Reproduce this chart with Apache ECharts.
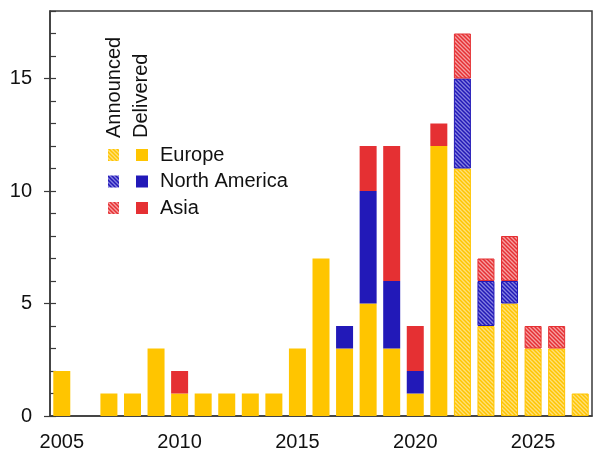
<!DOCTYPE html>
<html>
<head>
<meta charset="utf-8">
<script src="https://cdn.jsdelivr.net/npm/echarts@6/dist/echarts.min.js"></script>
<style>
  html, body { margin: 0; padding: 0; background: #fff; }
  #chart { width: 593px; height: 452px; }
</style>
</head>
<body>
<div id="chart"></div>
<script>
// Years on the x axis
const years = ['2005','2006','2007','2008','2009','2010','2011','2012','2013','2014','2015','2016',
               '2017','2018','2019','2020','2021','2022','2023','2024','2025','2026','2027'];

// Delivered (solid) counts per region
const europeDelivered = [2,0,1,1,3,1,1,1,1,1,3,7,3,5,3,1,12,0,0,0,0,0,0];
const naDelivered     = [0,0,0,0,0,0,0,0,0,0,0,0,1,5,3,1,0,0,0,0,0,0,0];
const asiaDelivered   = [0,0,0,0,0,1,0,0,0,0,0,0,0,2,6,2,1,0,0,0,0,0,0];

// Announced (hatched) counts per region
const europeAnnounced = [0,0,0,0,0,0,0,0,0,0,0,0,0,0,0,0,0,11,4,5,3,3,1];
const naAnnounced     = [0,0,0,0,0,0,0,0,0,0,0,0,0,0,0,0,0,4,2,1,0,0,0];
const asiaAnnounced   = [0,0,0,0,0,0,0,0,0,0,0,0,0,0,0,0,0,2,1,2,1,1,0];

const yMajorTicks = [0, 5, 10, 15];
const regionNames = ['Europe', 'North America', 'Asia'];

const colors = { europe: '#FFC500', na: '#2219B8', asia: '#E53033' };
const hatchBg = { europe: '#FFE07A', na: '#8581E0', asia: '#F69FA1' };

// Diagonal hatch tile: light fill with stripes of the full colour
function hatch(bg, fg) {
  const s = 4;
  const c = document.createElement('canvas');
  c.width = s; c.height = s;
  const g = c.getContext('2d');
  g.fillStyle = bg;
  g.fillRect(0, 0, s, s);
  g.strokeStyle = fg;
  g.lineWidth = 1.5;
  for (let k = -1; k <= 1; k++) {
    g.beginPath();
    g.moveTo(k * s - 1, -1);
    g.lineTo(k * s + s + 1, s + 1);
    g.stroke();
  }
  return { image: c, repeat: 'repeat' };
}

const patterns = {
  europe: hatch(hatchBg.europe, colors.europe),
  na: hatch(hatchBg.na, colors.na),
  asia: hatch(hatchBg.asia, colors.asia)
};

const nz = arr => arr.map(v => (v === 0 ? null : v));

function solidSeries(name, data, key) {
  return {
    name: name, type: 'bar', stack: 'all', barWidth: 17,
    data: nz(data), yAxisIndex: 0,
    itemStyle: { color: colors[key] },
    emphasis: { disabled: true }
  };
}
function hatchSeries(name, data, key) {
  return {
    name: name, type: 'bar', stack: 'all', barWidth: 17,
    data: nz(data), yAxisIndex: 0,
    itemStyle: { color: patterns[key], borderColor: colors[key], borderWidth: 1 },
    emphasis: { disabled: true }
  };
}

const axisColor = '#3a3a3a';
const font = 'Liberation Sans, Arial, sans-serif';

// Legend drawn as graphics: two swatch columns (announced / delivered)
const legendRows = [155, 181.5, 208];
const legendKeys = ['europe', 'na', 'asia'];
const legendGraphics = [
  { type: 'text', x: 114, y: 138, rotation: Math.PI / 2, style: {
      text: 'Announced', fill: '#111', font: '20px ' + font, textAlign: 'left', textVerticalAlign: 'middle' } },
  { type: 'text', x: 141, y: 138, rotation: Math.PI / 2, style: {
      text: 'Delivered', fill: '#111', font: '20px ' + font, textAlign: 'left', textVerticalAlign: 'middle' } }
];
legendRows.forEach((cy, i) => {
  const key = legendKeys[i];
  legendGraphics.push({ type: 'rect', shape: { x: 108, y: cy - 6, width: 11, height: 12 },
    style: { fill: patterns[key], stroke: null } });
  legendGraphics.push({ type: 'rect', shape: { x: 136, y: cy - 6, width: 12, height: 12 },
    style: { fill: colors[key] } });
  legendGraphics.push({ type: 'text', x: 160, y: cy, style: {
    text: regionNames[i], fill: '#111', font: '20px ' + font, textAlign: 'left', textVerticalAlign: 'middle' } });
});

const chart = echarts.init(document.getElementById('chart'), null, { renderer: 'canvas' });
chart.setOption({
  animation: false,
  backgroundColor: '#fff',
  grid: { left: 50, right: 1, top: 11, bottom: 36, show: true, borderColor: axisColor, borderWidth: 1.5, backgroundColor: 'transparent' },
  xAxis: {
    type: 'category', data: years, boundaryGap: true,
    axisLine: { lineStyle: { color: axisColor, width: 1.5 } },
    axisTick: { show: false },
    axisLabel: {
      interval: (idx, val) => Number(val) % 5 === 0,
      color: '#111', fontSize: 20, fontFamily: font, margin: 16
    }
  },
  yAxis: [
    {
      // minor ticks every unit, pointing inward
      type: 'value', min: 0, max: 18, interval: 1, position: 'left',
      axisLine: { show: true, lineStyle: { color: axisColor, width: 1.5 } },
      axisTick: { show: true, inside: true, length: 6, lineStyle: { color: axisColor, width: 1.2 } },
      axisLabel: { show: false },
      splitLine: { show: false }
    },
    {
      // major ticks with labels, reaching outward
      type: 'value', min: 0, max: 18, position: 'left',
      axisLine: { show: false },
      axisTick: { show: true, customValues: yMajorTicks, inside: false, length: 6, lineStyle: { color: axisColor, width: 1.2 } },
      axisLabel: { show: true, customValues: yMajorTicks, color: '#111', fontSize: 20, fontFamily: font, margin: 18 },
      splitLine: { show: false }
    }
  ],
  series: [
    solidSeries('Europe', europeDelivered, 'europe'),
    solidSeries('North America', naDelivered, 'na'),
    solidSeries('Asia', asiaDelivered, 'asia'),
    hatchSeries('Europe (announced)', europeAnnounced, 'europe'),
    hatchSeries('North America (announced)', naAnnounced, 'na'),
    hatchSeries('Asia (announced)', asiaAnnounced, 'asia')
  ],
  graphic: legendGraphics
});
</script>
</body>
</html>
